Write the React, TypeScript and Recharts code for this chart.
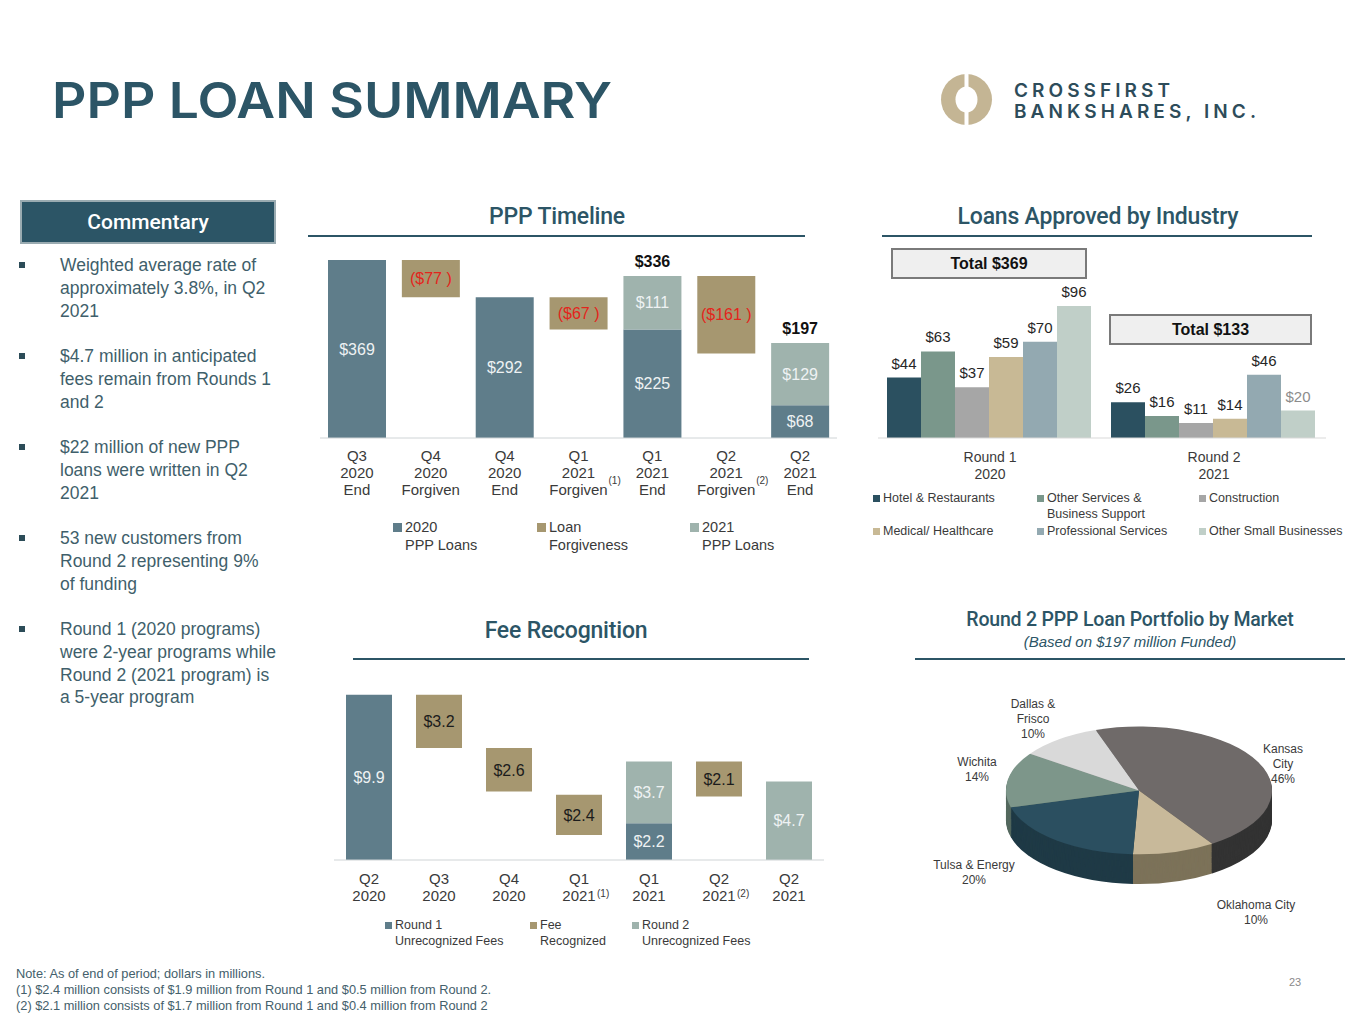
import React from "react";
import { Bar, BarChart, Cell, LabelList, Pie, PieChart, XAxis, YAxis } from "recharts";

// PPP timeline (waterfall), $ millions
const timelineCats = [
  "Q3 2020 End",
  "Q4 2020 Forgiven",
  "Q4 2020 End",
  "Q1 2021 Forgiven",
  "Q1 2021 End",
  "Q2 2021 Forgiven",
  "Q2 2021 End",
];
const timelineNotes = ["", "", "", "(1)", "", "(2)", ""];
const timelineLoans2020 = [369, null, 292, null, 225, null, 68];
const timelineForgivenBase = [null, 292, null, 225, null, 175, null];
const timelineForgiven = [null, 77, null, 67, null, 161, null];
const timelineLoans2021 = [null, null, null, null, 111, null, 129];
const timelineTotals = [null, null, null, null, 336, null, 197];

// Loans approved by industry
const industryRounds = ["Round 1 2020", "Round 2 2021"];
const industryTotals = [369, 133];
const hotelRestaurants = [44, 26];
const otherServices = [63, 16];
const construction = [37, 11];
const medicalHealthcare = [59, 14];
const professionalServices = [70, 46];
const otherSmallBusinesses = [96, 20];

// Fee recognition
const feeCats = ["Q2 2020", "Q3 2020", "Q4 2020", "Q1 2021", "Q1 2021", "Q2 2021", "Q2 2021"];
const feeNotes = ["", "", "", "(1)", "", "(2)", ""];
const feeRound1 = [9.9, null, null, null, 2.2, null, null];
const feeBase = [null, 6.7, 4.1, 1.5, null, 3.8, null];
const feeRecognized = [null, 3.2, 2.6, 2.4, null, 2.1, null];
const feeRound2 = [null, null, null, null, 3.7, null, 4.7];

// Round 2 portfolio by market (%)
const marketNames = ["Kansas City", "Oklahoma City", "Tulsa & Energy", "Wichita", "Dallas & Frisco"];
const marketShares = [46, 10, 20, 14, 10];
const marketLabelLines = [["Kansas", "City"], ["Oklahoma City"], ["Tulsa & Energy"], ["Wichita"], ["Dallas &", "Frisco"]];

const commentary = [
  ["Weighted average rate of", "approximately 3.8%, in Q2", "2021"],
  ["$4.7 million in anticipated", "fees remain from Rounds 1", "and 2"],
  ["$22 million of new PPP", "loans were written in Q2", "2021"],
  ["53 new customers from", "Round 2 representing 9%", "of funding"],
  ["Round 1 (2020 programs)", "were 2-year programs while", "Round 2 (2021 program) is", "a 5-year program"],
];

const NAVY = "#2c5566";
const BLUE = "#5f7d8a";
const TAN = "#a69770";
const SAGE = "#9fb3ad";
const FONT = "'Liberation Sans', Arial, sans-serif";
const HEAD = "Roboto, 'Liberation Sans', sans-serif";

const industryColors = ["#2b5060", "#7a978b", "#a6a6a6", "#c8b995", "#93a9b1", "#c0cfc8"];
const marketTop = ["#6f6a69", "#c8b99a", "#2b4f60", "#7d968a", "#d9d9d9"];
const marketSide = ["#333333", "#7c7259", "#1f3a46", "#55695f", "#9a9a9a"];

const timelineData = timelineCats.map((name, i) => ({
  name,
  base: timelineForgivenBase[i],
  r2020: timelineLoans2020[i],
  forgiven: timelineForgiven[i],
  r2021: timelineLoans2021[i],
  total: timelineTotals[i],
}));

const industrySeries = [
  { name: "Hotel & Restaurants", values: hotelRestaurants },
  { name: "Other Services & Business Support", values: otherServices },
  { name: "Construction", values: construction },
  { name: "Medical/ Healthcare", values: medicalHealthcare },
  { name: "Professional Services", values: professionalServices },
  { name: "Other Small Businesses", values: otherSmallBusinesses },
];
const industryData = industryRounds.map((name, i) => {
  const row: any = { name };
  industrySeries.forEach((s, k) => (row["s" + k] = s.values[i]));
  return row;
});

const feeData = feeCats.map((name, i) => ({
  name,
  r1: feeRound1[i],
  base: feeBase[i],
  fee: feeRecognized[i],
  r2: feeRound2[i],
}));

const marketData = marketNames.map((name, i) => ({ name, value: marketShares[i] }));

function makeTick(cats: string[], notes: string[], lineGap: number, first: number, noteDx: number, noteLine: number) {
  return (props: any) => {
    const { x, y, payload } = props;
    const idx = payload?.index ?? props.index ?? 0;
    const lines = String(cats[idx] ?? payload.value).split(" ");
    return (
      <g>
        {lines.map((t, k) => (
          <text key={k} x={x} y={y + first + k * lineGap} textAnchor="middle" fontSize={15} fill="#3a3a3a" fontFamily={FONT}>
            {t}
          </text>
        ))}
        {notes[idx] ? (
          <text x={x + noteDx} y={y + first + noteLine * lineGap - 11} fontSize={10} fill="#3a3a3a" fontFamily={FONT}>
            {notes[idx]}
          </text>
        ) : null}
      </g>
    );
  };
}

function vbOf(p: any) {
  const vb = p.viewBox || {};
  return {
    x: p.x ?? vb.x ?? 0,
    y: p.y ?? vb.y ?? 0,
    w: p.width ?? vb.width ?? 0,
    h: p.height ?? vb.height ?? 0,
  };
}

function SectionTitle({ text, cx, cy, x1, x2, ly, size = 23 }: any) {
  return (
    <>
      <div
        style={{
          position: "absolute",
          left: cx - 250,
          width: 500,
          top: cy - size * 0.65,
          textAlign: "center",
          fontFamily: HEAD,
          fontWeight: 500,
          fontSize: size,
          color: NAVY,
          lineHeight: `${size * 1.3}px`,
          letterSpacing: -0.2,
        }}
      >
        {text}
      </div>
      <div style={{ position: "absolute", left: x1, width: x2 - x1, top: ly - 1, height: 2, background: NAVY }} />
    </>
  );
}

function Legend({ items, top, fontSize, lineH, box }: any) {
  return (
    <>
      {items.map((it: any, i: number) => (
        <div key={i} style={{ position: "absolute", left: it.x, top: it.y ?? top, fontFamily: FONT, fontSize, color: "#3a3a3a", lineHeight: `${lineH}px` }}>
          <span style={{ position: "absolute", left: 0, top: (lineH - box) / 2, width: box, height: box, background: it.color }} />
          <div style={{ paddingLeft: box + 3, whiteSpace: "nowrap" }}>
            {it.lines.map((l: string, k: number) => (
              <div key={k}>{l}</div>
            ))}
          </div>
        </div>
      ))}
    </>
  );
}

const PIE_SCALE = 0.48;
const PIE_DEPTH = 62;
const pieLayers = Array.from({ length: PIE_DEPTH / 2 }, (_, k) => PIE_DEPTH - k * 2);

export default function App() {
  const whiteLabel = { fill: "#eef2f3", fontSize: 16, fontFamily: FONT };
  return (
    <div style={{ position: "absolute", left: 0, top: 0, width: 1365, height: 1024, background: "#fff", fontFamily: FONT, overflow: "hidden" }}>
      {/* header */}
      <svg style={{ position: "absolute", left: 0, top: 0 }} width={1365} height={140}>
        <text x={52} y={118} fontFamily="Inter, 'DejaVu Sans', sans-serif" fontWeight={600} fontSize={49} fill={NAVY} textLength={560} lengthAdjust="spacingAndGlyphs">
          PPP LOAN SUMMARY
        </text>
        <circle cx={966.5} cy={99.5} r={25.5} fill="#c4b594" />
        <ellipse cx={966.5} cy={99.5} rx={11} ry={13} fill="#fff" />
        <rect x={964.5} y={72} width={4} height={56} fill="#fff" />
        <text x={1014} y={97} fontFamily="Inter, 'DejaVu Sans', sans-serif" fontWeight={600} fontSize={19} fill="#2d4c5a" textLength={156} lengthAdjust="spacing">
          CROSSFIRST
        </text>
        <text x={1014} y={118} fontFamily="Inter, 'DejaVu Sans', sans-serif" fontWeight={600} fontSize={19} fill="#2d4c5a" textLength={242} lengthAdjust="spacing">
          BANKSHARES, INC.
        </text>
      </svg>

      {/* commentary */}
      <div
        style={{
          position: "absolute",
          left: 20,
          top: 200,
          width: 252,
          height: 40,
          background: NAVY,
          border: "2px solid #9aabb1",
          color: "#fff",
          fontFamily: HEAD,
          fontWeight: 500,
          fontSize: 21,
          lineHeight: "40px",
          textAlign: "center",
        }}
      >
        Commentary
      </div>
      {commentary.map((lines, i) => (
        <div key={i} style={{ position: "absolute", left: 60, top: 254 + i * 91, fontSize: 17.5, lineHeight: "22.75px", color: "#3f5f6b", whiteSpace: "nowrap" }}>
          <span style={{ position: "absolute", left: -41, top: 8, width: 6, height: 6, background: "#2c4c58" }} />
          {lines.map((l, k) => (
            <div key={k}>{l}</div>
          ))}
        </div>
      ))}

      {/* PPP Timeline */}
      <SectionTitle text="PPP Timeline" cx={557} cy={217} x1={308} x2={805} ly={236} />
      <div style={{ position: "absolute", left: 320, top: 244 }}>
        <BarChart width={517} height={262} data={timelineData} margin={{ top: 16, right: 0, bottom: 0, left: 0 }} barSize={58}>
          <YAxis hide domain={[0, 369]} />
          <XAxis
            dataKey="name"
            interval={0}
            tickLine={false}
            tickSize={0}
            tickMargin={0}
            height={68}
            axisLine={{ stroke: "#cfd4d6" }}
            tick={makeTick(timelineCats, timelineNotes, 17, 23, 30, 2)}
          />
          <Bar dataKey="base" stackId="a" fill="transparent" isAnimationActive={false} />
          <Bar dataKey="r2020" stackId="a" fill={BLUE} isAnimationActive={false}>
            <LabelList dataKey="r2020" position="center" {...whiteLabel} formatter={(v: any) => `$${v}`} />
          </Bar>
          <Bar dataKey="forgiven" stackId="a" fill={TAN} isAnimationActive={false}>
            <LabelList dataKey="forgiven" position="center" fill="#e3251c" fontSize={16} fontFamily={FONT} formatter={(v: any) => `($${v} )`} />
          </Bar>
          <Bar dataKey="r2021" stackId="a" fill={SAGE} isAnimationActive={false}>
            <LabelList dataKey="r2021" position="center" {...whiteLabel} formatter={(v: any) => `$${v}`} />
            <LabelList dataKey="total" position="top" offset={9} fill="#111" fontSize={16} fontWeight="bold" fontFamily={FONT} formatter={(v: any) => `$${v}`} />
          </Bar>
        </BarChart>
      </div>
      <Legend
        top={518}
        fontSize={14.5}
        lineH={18}
        box={9}
        items={[
          { x: 393, color: BLUE, lines: ["2020", "PPP Loans"] },
          { x: 537, color: TAN, lines: ["Loan", "Forgiveness"] },
          { x: 690, color: SAGE, lines: ["2021", "PPP Loans"] },
        ]}
      />

      {/* Loans approved by industry */}
      <SectionTitle text="Loans Approved by Industry" cx={1098} cy={217} x1={882} x2={1312} ly={236} />
      <div style={{ position: "absolute", left: 878, top: 280 }}>
        <BarChart width={448} height={208} data={industryData} margin={{ top: 20.5, right: 0, bottom: 0, left: 0 }} barCategoryGap={9} barGap={0}>
          <YAxis hide domain={[0, 100]} />
          <XAxis
            dataKey="name"
            interval={0}
            tickLine={false}
            tickSize={0}
            tickMargin={0}
            height={50}
            axisLine={{ stroke: "#d9d9d9" }}
            tick={(p: any) => {
              const lines = String(p.payload.value).split(/ (?=\d{4})/);
              return (
                <g>
                  {lines.map((t, k) => (
                    <text key={k} x={p.x} y={p.y + 24 + k * 17} textAnchor="middle" fontSize={14} fill="#3a3a3a" fontFamily={FONT}>
                      {t}
                    </text>
                  ))}
                </g>
              );
            }}
          />
          {industrySeries.map((s, k) => (
            <Bar key={s.name} dataKey={"s" + k} fill={industryColors[k]} isAnimationActive={false}>
              <LabelList
                dataKey={"s" + k}
                content={(p: any) => {
                  const b = vbOf(p);
                  const muted = k === 5 && p.index === 1;
                  return (
                    <text x={b.x + b.w / 2} y={b.y - 9} textAnchor="middle" fontSize={15} fontFamily={FONT} fill={muted ? "#8c8c8c" : "#262626"}>
                      {`$${p.value}`}
                    </text>
                  );
                }}
              />
            </Bar>
          ))}
        </BarChart>
      </div>
      {industryTotals.map((t, i) => (
        <div
          key={i}
          style={{
            position: "absolute",
            left: i === 0 ? 891 : 1109,
            top: i === 0 ? 248 : 314,
            width: i === 0 ? 192 : 199,
            height: 27,
            background: "#efefef",
            border: "2px solid #7a7a7a",
            fontSize: 16,
            fontWeight: "bold",
            lineHeight: "27px",
            textAlign: "center",
            color: "#111",
          }}
        >
          {`Total $${t}`}
        </div>
      ))}
      <Legend
        fontSize={12.5}
        lineH={15.5}
        box={7}
        items={industrySeries.map((s, k) => ({
          x: [873, 1037, 1199][k % 3],
          y: k < 3 ? 491 : 524,
          color: industryColors[k],
          lines: k === 1 ? ["Other Services &", "Business Support"] : [s.name],
        }))}
      />

      {/* Fee recognition */}
      <SectionTitle text="Fee Recognition" cx={566} cy={631} x1={353} x2={809} ly={659} />
      <div style={{ position: "absolute", left: 334, top: 683 }}>
        <BarChart width={490} height={226} data={feeData} margin={{ top: 10, right: 0, bottom: 0, left: 0 }} barSize={46}>
          <YAxis hide domain={[0, 10]} />
          <XAxis
            dataKey="name"
            interval={0}
            tickLine={false}
            tickSize={0}
            tickMargin={0}
            height={49}
            axisLine={{ stroke: "#cfd4d6" }}
            tick={makeTick(feeCats, feeNotes, 17, 24, 18, 1.4)}
          />
          <Bar dataKey="r1" stackId="f" fill={BLUE} isAnimationActive={false}>
            <LabelList dataKey="r1" position="center" {...whiteLabel} formatter={(v: any) => `$${Number(v).toFixed(1)}`} />
          </Bar>
          <Bar dataKey="base" stackId="f" fill="transparent" isAnimationActive={false} />
          <Bar dataKey="fee" stackId="f" fill={TAN} isAnimationActive={false}>
            <LabelList dataKey="fee" position="center" fill="#1c1c1c" fontSize={16} fontFamily={FONT} formatter={(v: any) => `$${Number(v).toFixed(1)}`} />
          </Bar>
          <Bar dataKey="r2" stackId="f" fill={SAGE} isAnimationActive={false}>
            <LabelList dataKey="r2" position="center" {...whiteLabel} formatter={(v: any) => `$${Number(v).toFixed(1)}`} />
          </Bar>
        </BarChart>
      </div>
      <Legend
        top={918}
        fontSize={12.5}
        lineH={15.5}
        box={7}
        items={[
          { x: 385, color: BLUE, lines: ["Round 1", "Unrecognized Fees"] },
          { x: 530, color: TAN, lines: ["Fee", "Recognized"] },
          { x: 632, color: SAGE, lines: ["Round 2", "Unrecognized Fees"] },
        ]}
      />

      {/* Market pie */}
      <SectionTitle text="Round 2 PPP Loan Portfolio by Market" cx={1130} cy={620} x1={915} x2={1345} ly={659} size={19.5} />
      <div style={{ position: "absolute", left: 880, width: 500, top: 633, textAlign: "center", fontSize: 15, fontStyle: "italic", color: NAVY }}>
        (Based on $197 million Funded)
      </div>
      <div style={{ position: "absolute", left: 984, top: 716, width: 300, height: 360, transform: `scaleY(${PIE_SCALE})`, transformOrigin: "0 0" }}>
        <PieChart width={300} height={360}>
          {pieLayers.map((d) => (
            <Pie
              key={"side" + d}
              data={marketData}
              dataKey="value"
              cx={150}
              cy={150 + d}
              outerRadius={133}
              startAngle={109}
              endAngle={-251}
              stroke="none"
              isAnimationActive={false}
            >
              {marketData.map((m, i) => (
                <Cell key={m.name} fill={marketSide[i]} />
              ))}
            </Pie>
          ))}
          <Pie data={marketData} dataKey="value" cx={150} cy={150} outerRadius={133} startAngle={109} endAngle={-251} stroke="none" isAnimationActive={false}>
            {marketData.map((m, i) => (
              <Cell key={m.name} fill={marketTop[i]} />
            ))}
          </Pie>
        </PieChart>
      </div>
      {marketData.map((m, i) => {
        const spot = [
          [1283, 742],
          [1256, 898],
          [974, 858],
          [977, 755],
          [1033, 697],
        ][i];
        return (
          <div key={m.name} style={{ position: "absolute", left: spot[0] - 60, width: 120, top: spot[1], textAlign: "center", fontSize: 12, lineHeight: "15px", color: "#3a3a3a" }}>
            {marketLabelLines[i].map((l, k) => (
              <div key={k}>{l}</div>
            ))}
            <div>{`${m.value}%`}</div>
          </div>
        );
      })}

      {/* footnotes */}
      <div style={{ position: "absolute", left: 16, top: 966, fontSize: 12.8, lineHeight: "16px", color: "#44606b" }}>
        <div>Note: As of end of period; dollars in millions.</div>
        <div>(1) $2.4 million consists of $1.9 million from Round 1 and $0.5 million from Round 2.</div>
        <div>(2) $2.1 million consists of $1.7 million from Round 1 and $0.4 million from Round 2</div>
      </div>
      <div style={{ position: "absolute", left: 1289, top: 976, fontSize: 11, color: "#8a8a8a" }}>23</div>
    </div>
  );
}
